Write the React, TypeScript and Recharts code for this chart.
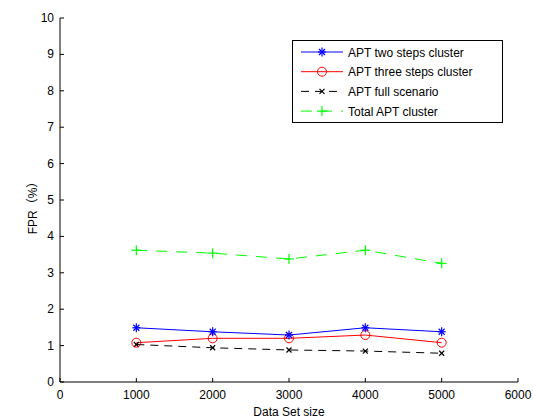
import React from 'react';
import { LineChart, Line, XAxis, YAxis, Legend } from 'recharts';

const sizes = [1000, 2000, 3000, 4000, 5000];
const twoSteps = [1.49, 1.38, 1.29, 1.49, 1.38];
const threeSteps = [1.08, 1.2, 1.2, 1.29, 1.08];
const fullScenario = [1.03, 0.94, 0.88, 0.85, 0.79];
const totalCluster = [3.62, 3.54, 3.38, 3.62, 3.26];
const xTicks = [0, 1000, 2000, 3000, 4000, 5000, 6000];
const yTicks = [0, 1, 2, 3, 4, 5, 6, 7, 8, 9, 10];

const seriesNames = ['APT two steps cluster', 'APT three steps cluster', 'APT full scenario', 'Total APT cluster'];

const data = sizes.map((s, i) => ({
  size: s,
  two: twoSteps[i],
  three: threeSteps[i],
  full: fullScenario[i],
  total: totalCluster[i],
}));

const FONT = '"Liberation Sans", Arial, "Noto Sans CJK SC", sans-serif';

const StarMark = ({ cx, cy, color }: any) => (
  <g stroke={color} strokeWidth={1.2} fill="none">
    <line x1={cx - 4} y1={cy} x2={cx + 4} y2={cy} />
    <line x1={cx} y1={cy - 4.5} x2={cx} y2={cy + 4.5} />
    <line x1={cx - 3} y1={cy - 3} x2={cx + 3} y2={cy + 3} />
    <line x1={cx - 3} y1={cy + 3} x2={cx + 3} y2={cy - 3} />
  </g>
);
const CircleMark = ({ cx, cy, color }: any) => (
  <circle cx={cx} cy={cy} r={4.5} stroke={color} strokeWidth={1} fill="none" />
);
const XMark = ({ cx, cy, color }: any) => (
  <g stroke={color} strokeWidth={1.2}>
    <line x1={cx - 2.5} y1={cy - 2.5} x2={cx + 2.5} y2={cy + 2.5} />
    <line x1={cx - 2.5} y1={cy + 2.5} x2={cx + 2.5} y2={cy - 2.5} />
  </g>
);
const PlusMark = ({ cx, cy, color }: any) => (
  <g stroke={color} strokeWidth={1.2}>
    <line x1={cx - 5} y1={cy} x2={cx + 5} y2={cy} />
    <line x1={cx} y1={cy - 5} x2={cx} y2={cy + 5} />
  </g>
);

const BottomTick = (props: any) => {
  const { x, y, payload } = props;
  return (
    <g>
      <line x1={x} y1={y} x2={x} y2={y - 4} stroke="#000" />
      <text x={x} y={y + 17} textAnchor="middle" fontSize={12} fontFamily={FONT} fill="#000">
        {payload.value}
      </text>
    </g>
  );
};
const TopTick = (props: any) => {
  const { x, y } = props;
  return <line x1={x} y1={y} x2={x} y2={y + 4} stroke="#000" />;
};
const LeftTick = (props: any) => {
  const { x, y, payload } = props;
  return (
    <g>
      <line x1={x} y1={y} x2={x + 4} y2={y} stroke="#000" />
      <text x={x - 6} y={y + 4} textAnchor="end" fontSize={12} fontFamily={FONT} fill="#000">
        {payload.value}
      </text>
    </g>
  );
};
const RightTick = (props: any) => {
  const { x, y } = props;
  return <line x1={x} y1={y} x2={x - 4} y2={y} stroke="#000" />;
};

const legendRows = [
  { name: seriesNames[0], color: '#0000ff', dash: undefined, Mark: StarMark },
  { name: seriesNames[1], color: '#ff0000', dash: undefined, Mark: CircleMark },
  { name: seriesNames[2], color: '#000000', dash: '8 6', Mark: XMark },
  { name: seriesNames[3], color: '#00ff00', dash: '11 9', Mark: PlusMark },
];

const LegendBox = () => (
  <svg width={211} height={83} style={{ display: 'block' }}>
    <rect x={0.5} y={0.5} width={210} height={82} fill="#fff" stroke="#000" strokeWidth={1} />
    {legendRows.map((r, i) => {
      const cy = 12 + i * 19.7;
      return (
        <g key={r.name}>
          <line x1={9} y1={cy} x2={51} y2={cy} stroke={r.color} strokeWidth={1} strokeDasharray={r.dash} />
          <r.Mark cx={30} cy={cy} color={r.color} />
          <text x={56} y={cy + 4.5} fontSize={12} fontFamily={FONT} fill="#000">
            {r.name}
          </text>
        </g>
      );
    })}
  </svg>
);

const mkDot = (Mark: any, color: string) => (p: any) => (
  <Mark key={`d-${p.index}`} cx={p.cx} cy={p.cy} color={color} />
);

const YLabel = (props: any) => {
  const vb = props.viewBox || {};
  const cx = (vb.x ?? 20) + 13;
  const cy = (vb.y ?? 18) + (vb.height ?? 364) / 2 + 5;
  return (
    <text
      x={cx}
      y={cy}
      transform={`rotate(-90, ${cx}, ${cy})`}
      textAnchor="middle"
      dominantBaseline="central"
      fontSize={12}
      fontFamily={FONT}
      fill="#000"
    >
      FPR（%）
    </text>
  );
};

export default function App() {
  return (
    <div style={{ position: 'absolute', left: 0, top: 0, width: 533, height: 420, background: '#fff' }}>
      <LineChart
        width={533}
        height={420}
        data={data}
        margin={{ top: 18, right: 15, left: 20, bottom: 8 }}
      >
        <XAxis
          dataKey="size"
          type="number"
          domain={[0, 6000]}
          ticks={xTicks}
          tick={BottomTick}
          tickSize={0}
          tickMargin={0}
          tickLine={false}
          height={30}
          stroke="#000"
          axisLine={{ stroke: '#000' }}
          interval={0}
          label={{ value: 'Data Set size', position: 'insideBottom', offset: -4, fontSize: 12, fontFamily: FONT, fill: '#000' }}
        />
        <XAxis
          xAxisId="top"
          orientation="top"
          dataKey="size"
          type="number"
          domain={[0, 6000]}
          ticks={xTicks}
          tick={TopTick}
          tickSize={0}
          tickMargin={0}
          tickLine={false}
          height={0}
          axisLine={{ stroke: '#000' }}
          interval={0}
        />
        <YAxis
          type="number"
          domain={[0, 10]}
          ticks={yTicks}
          tick={LeftTick}
          tickSize={0}
          tickMargin={0}
          tickLine={false}
          width={40}
          axisLine={{ stroke: '#000' }}
          interval={0}
          label={<YLabel />}
        />
        <YAxis
          yAxisId="right"
          orientation="right"
          type="number"
          domain={[0, 10]}
          ticks={yTicks}
          tick={RightTick}
          tickSize={0}
          tickMargin={0}
          tickLine={false}
          width={0}
          axisLine={{ stroke: '#000' }}
          interval={0}
        />
        <Legend
          layout="vertical"
          align="center"
          verticalAlign="middle"
          content={() => <LegendBox />}
          wrapperStyle={{ left: 292, top: 40, width: 211, height: 83 }}
        />
        <Line dataKey="total" name={seriesNames[3]} stroke="#00ff00" strokeWidth={1} strokeDasharray="11 9" dot={mkDot(PlusMark, '#00ff00')} isAnimationActive={false} />
        <Line dataKey="full" name={seriesNames[2]} stroke="#000000" strokeWidth={1} strokeDasharray="8 6" dot={mkDot(XMark, '#000000')} isAnimationActive={false} />
        <Line dataKey="three" name={seriesNames[1]} stroke="#ff0000" strokeWidth={1} dot={mkDot(CircleMark, '#ff0000')} isAnimationActive={false} />
        <Line dataKey="two" name={seriesNames[0]} stroke="#0000ff" strokeWidth={1} dot={mkDot(StarMark, '#0000ff')} isAnimationActive={false} />
      </LineChart>
    </div>
  );
}
